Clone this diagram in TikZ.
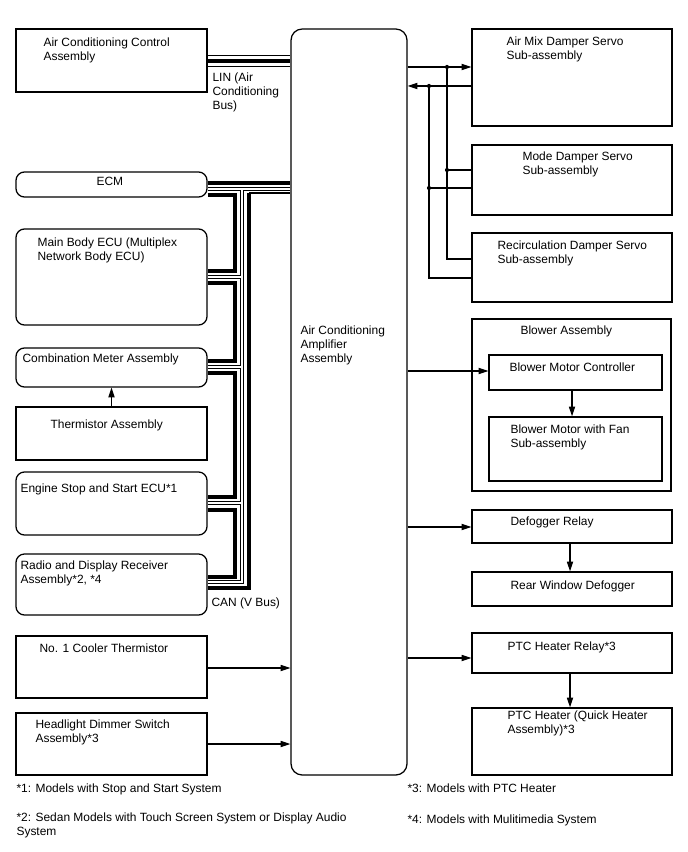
\documentclass[tikz,border=0pt]{standalone}
\usepackage{fontspec}
\setmainfont{Liberation Sans}
\usetikzlibrary{arrows.meta,fit}

\begin{document}
\begin{tikzpicture}[
			x = 0.025cm, y = -0.025cm, % one unit = one pixel, y runs down
			> = {Triangle[length=7pt,width=4.4pt]}, % arrow head style
			line width = 0.8pt, % connector style
			font = \fontsize{8.5}{10}\selectfont
			]
			
			\tikzstyle{box}=[
			draw = black,
			line width = 0.9pt,
			inner sep = 0pt,
			rectangle
			]
			\tikzstyle{rbox}=[box, rounded corners = 6pt]
			\tikzstyle{txt}=[anchor = north west, inner sep = 0pt, align = left]
			\tikzstyle{canh}=[line width = 2.4pt]
			
			\useasboundingbox (0,0) rectangle (688,852);
			
			% left column
			\node[box, fit={(16,29) (207,92)}] (acctrl) {};
			\node[rbox, fit={(16,172) (207,197)}] (ecm) {};
			\node[rbox, fit={(16,229) (207,325)}] (mainbody) {};
			\node[rbox, fit={(16,348) (207,387)}] (combi) {};
			\node[box, fit={(16,407) (207,460)}] (thermo) {};
			\node[rbox, fit={(16,472) (207,535)}] (engine) {};
			\node[rbox, fit={(16,554) (207,615)}] (radio) {};
			\node[box, fit={(16,636) (207,698)}] (cooler) {};
			\node[box, fit={(16,713) (207,775)}] (headlt) {};
			
			\node[txt] (acctrl-l) at (43,37) {Air Conditioning Control\\Assembly};
			\node[txt] (ecm-l) at (96,177) {ECM};
			\node[txt] (mainbody-l) at (37,237) {Main Body ECU (Multiplex\\Network Body ECU)};
			\node[txt] (combi-l) at (22,353) {Combination Meter Assembly};
			\node[txt] (thermo-l) at (50,419) {Thermistor Assembly};
			\node[txt] (engine-l) at (20,483) {Engine Stop and Start ECU*1};
			\node[txt] (radio-l) at (20,560) {Radio and Display Receiver\\Assembly*2, *4};
			\node[txt] (cooler-l) at (39,643) {No. 1 Cooler Thermistor};
			\node[txt] (headlt-l) at (35,719) {Headlight Dimmer Switch\\Assembly*3};
			
			% amplifier
			\node[rbox, rounded corners = 8pt, fit={(291,29) (407,775)}] (amp) {};
			\node[txt] (amp-l) at (300,325) {Air Conditioning\\Amplifier\\Assembly};
			
			% right column
			\node[box, fit={(472,29) (672,126)}] (airmix) {};
			\node[box, fit={(472,145) (672,215)}] (mode) {};
			\node[box, fit={(472,233) (672,302)}] (recirc) {};
			\node[box, fit={(472,319) (671,491)}] (blower) {};
			\node[box, fit={(489,355) (662,390)}] (blowerctrl) {};
			\node[box, fit={(489,417) (662,481)}] (blowerfan) {};
			\node[box, fit={(472,510) (672,543)}] (defrelay) {};
			\node[box, fit={(472,572) (672,606)}] (rearwin) {};
			\node[box, fit={(472,633) (672,673)}] (ptcrelay) {};
			\node[box, fit={(472,708) (672,775)}] (ptcheater) {};
			
			\node[txt] (airmix-l) at (506,36) {Air Mix Damper Servo\\Sub-assembly};
			\node[txt] (mode-l) at (522,151) {Mode Damper Servo\\Sub-assembly};
			\node[txt] (recirc-l) at (497,240) {Recirculation Damper Servo\\Sub-assembly};
			\node[txt] (blower-l) at (520,325) {Blower Assembly};
			\node[txt] (blowerctrl-l) at (509,362) {Blower Motor Controller};
			\node[txt] (blowerfan-l) at (510,424) {Blower Motor with Fan\\Sub-assembly};
			\node[txt] (defrelay-l) at (510,516) {Defogger Relay};
			\node[txt] (rearwin-l) at (510,580) {Rear Window Defogger};
			\node[txt] (ptcrelay-l) at (507,641) {PTC Heater Relay*3};
			\node[txt] (ptcheater-l) at (507,710) {PTC Heater (Quick Heater\\Assembly)*3};
			
			% bus labels
			\node[txt] (lin-l) at (212,72) {LIN (Air\\Conditioning\\Bus)};
			\node[txt] (can-l) at (211,597) {CAN (V Bus)};
			
			% LIN
			\draw[line width = 9.2pt] (acctrl.east |- 0,61) -- (amp.west |- 0,61);
			\draw[line width = 7.8pt, white, shorten < = 0.45pt, shorten > = 0.45pt]
				(acctrl.east |- 0,61) -- (amp.west |- 0,61);
			\draw[line width = 2.8pt] (acctrl.east |- 0,61) -- (amp.west |- 0,61);
			
			% CAN, solid wire
			\draw[canh] (ecm.east |- 0,183) -- (amp.west |- 0,183);
			\draw[canh] (ecm.east |- 0,195) -| (235,271) -- (mainbody.east |- 0,271);
			\draw[canh] (mainbody.east |- 0,283) -| (235,361) -- (combi.east |- 0,361);
			\draw[canh] (combi.east |- 0,373) -| (235,497) -- (engine.east |- 0,497);
			\draw[canh] (engine.east |- 0,510) -| (235,577) -- (radio.east |- 0,577);
			\draw[canh] (radio.east |- 0,588) -| (249,193);
			\draw (249,193) -- (amp.west |- 0,193);
			
			% CAN, hollow wire
			\foreach \w/\c/\s in {2.9pt/black/0pt, 1.4pt/white/0.45pt}
				\draw[line width = \w, \c, shorten < = \s, shorten > = \s]
					(ecm.east |- 0,189) -- (amp.west |- 0,189)
					(242,189) -- (242,582) -- (radio.east |- 0,582)
					(mainbody.east |- 0,277) -- (242,277)
					(combi.east |- 0,367) -- (242,367)
					(engine.east |- 0,503) -- (242,503);
			
			% sensors and switches
			\draw[->] (thermo.north) -- (combi.south);
			\draw[->] (cooler.east |- 0,668) -- (amp.west |- 0,668);
			\draw[->] (headlt.east |- 0,744) -- (amp.west |- 0,744);
			
			% damper servos
			\coordinate (ja) at (447,67);
			\coordinate (jb) at (429,86);
			\draw[->] (amp.east |- ja) -- (airmix.west |- ja);
			\draw[->] (airmix.west |- jb) -- (amp.east |- jb);
			\draw (ja) |- (recirc.west |- 0,259);
			\draw (jb) |- (recirc.west |- 0,278);
			\draw (447,170) -- (mode.west |- 0,170);
			\draw (429,188) -- (mode.west |- 0,188);
			\foreach \p in {(ja), (jb), (447,170), (429,188)}
				\fill \p circle [radius = 1.5pt];
			
			% outputs
			\draw[->] (amp.east |- 0,371) -- (blowerctrl.west |- 0,371);
			\draw[->] (blowerctrl.south -| 572,0) -- (blowerfan.north -| 572,0);
			\draw[->] (amp.east |- 0,527) -- (defrelay.west |- 0,527);
			\draw[->] (defrelay.south -| 570,0) -- (rearwin.north -| 570,0);
			\draw[->] (amp.east |- 0,658) -- (ptcrelay.west |- 0,658);
			\draw[->] (ptcrelay.south -| 570,0) -- (ptcheater.north -| 570,0);
			
			% notes
			\node[txt] (note1) at (16,783) {*1: Models with Stop and Start System};
			\node[txt] (note2) at (16,812) {*2: Sedan Models with Touch Screen System or Display Audio\\System};
			\node[txt] (note3) at (407,783) {*3: Models with PTC Heater};
			\node[txt] (note4) at (407,814) {*4: Models with Mulitimedia System};
		\end{tikzpicture}
\end{document}
